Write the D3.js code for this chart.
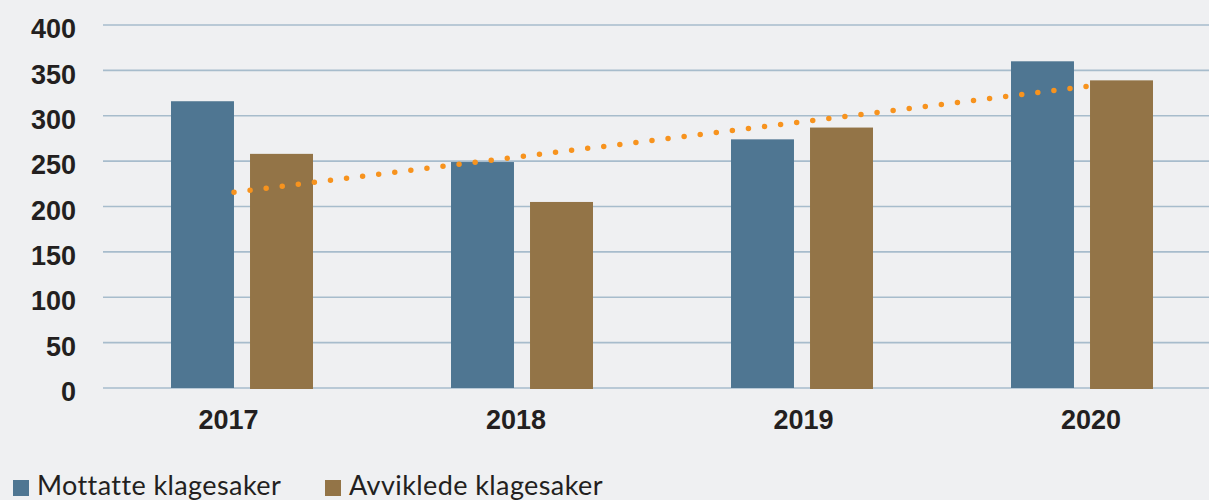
<!DOCTYPE html>
<html>
<head>
<meta charset="utf-8">
<script src="https://cdn.jsdelivr.net/npm/d3@7"></script>
<style>
  html, body { margin: 0; padding: 0; background: #eff0f2; }
  svg { display: block; }
</style>
</head>
<body>
<svg id="chart" width="1209" height="500"></svg>
<script>
// ---- data ----
const years = ["2017", "2018", "2019", "2020"];
const seriesNames = ["Mottatte klagesaker", "Avviklede klagesaker"];
const mottatte = [316, 249, 274, 360];
const avviklede = [258, 205, 287, 339];
const yTicks = [0, 50, 100, 150, 200, 250, 300, 350, 400];
const trendIndex = [0, 3];
const trendValues = [215.6, 333];

// ---- styles ----
const colors = ["#4f7692", "#937447"];
const W = 1209, H = 500;
const svg = d3.select("#chart");
svg.append("rect").attr("width", W).attr("height", H).attr("fill", "#eff0f2");

const y = d3.scaleLinear().domain([0, 400]).range([388, 25]);
const x0 = d3.scaleBand().domain(years).range([102, 1222]).padding(0);
const x1 = d3.scaleBand().domain(seriesNames).range([69, 211]).paddingInner(0.203).paddingOuter(0);
const xLabel = d3.scalePoint().domain(years).range([228, 1090.5]);
const trendX = d3.scaleLinear().domain([0, 3]).range([234, 1091]);

// gridlines
svg.append("g").selectAll("line").data(yTicks).join("line")
  .attr("x1", 103).attr("x2", W)
  .attr("y1", d => y(d)).attr("y2", d => y(d))
  .attr("stroke", "#a7bccc").attr("stroke-width", 1.6);

// y axis labels
const yAxis = svg.append("g").attr("transform", "translate(76,0)")
  .call(d3.axisLeft(y).tickValues(yTicks).tickSize(0).tickPadding(0).tickFormat(d3.format("d")));
yAxis.select(".domain").remove();
yAxis.selectAll("text")
  .attr("font-family", "'Liberation Sans', Arial, sans-serif")
  .attr("font-weight", "bold").attr("font-size", 27).attr("fill", "#231f20")
  .attr("dy", "0.47em");

// bars
const rows = years.map((yr, i) => ({ year: yr, values: [mottatte[i], avviklede[i]] }));
const groups = svg.append("g").selectAll("g").data(rows).join("g")
  .attr("transform", d => `translate(${x0(d.year)},0)`);
groups.selectAll("rect").data(d => d.values.map((v, k) => ({ key: seriesNames[k], v, k })))
  .join("rect")
  .attr("x", d => x1(d.key))
  .attr("width", x1.bandwidth())
  .attr("y", d => y(d.v))
  .attr("height", d => y(0) - y(d.v) + (d.k === 1 ? 1 : 0))
  .attr("fill", d => colors[d.k]);

// trend line (dotted)
const trendData = trendIndex.map((t, i) => ({ t, v: trendValues[i] }));
svg.append("path")
  .datum(trendData)
  .attr("d", d3.line().x(d => trendX(d.t)).y(d => y(d.v)))
  .attr("fill", "none")
  .attr("stroke", "#f7931e")
  .attr("stroke-width", 5.5)
  .attr("stroke-linecap", "round")
  .attr("stroke-dasharray", "0 16.2");

// x axis labels
const xAxis = svg.append("g").attr("transform", "translate(0,429)")
  .call(d3.axisBottom(xLabel).tickSize(0).tickPadding(0));
xAxis.select(".domain").remove();
xAxis.selectAll("text")
  .attr("font-family", "'Liberation Sans', Arial, sans-serif")
  .attr("font-weight", "bold").attr("font-size", 27).attr("fill", "#231f20")
  .attr("y", 0).attr("dy", 0);

// legend
const legendX = [13, 325];
const legend = svg.append("g").selectAll("g").data(seriesNames).join("g")
  .attr("transform", (d, i) => `translate(${legendX[i]},480)`);
legend.append("rect").attr("width", 16).attr("height", 16).attr("fill", (d, i) => colors[i]);
legend.append("text").attr("x", 24).attr("y", 15)
  .attr("font-family", "Lato, 'Liberation Sans', sans-serif")
  .attr("font-size", 27).attr("letter-spacing", 0.4).attr("fill", "#231f20")
  .text(d => d);
</script>
</body>
</html>
